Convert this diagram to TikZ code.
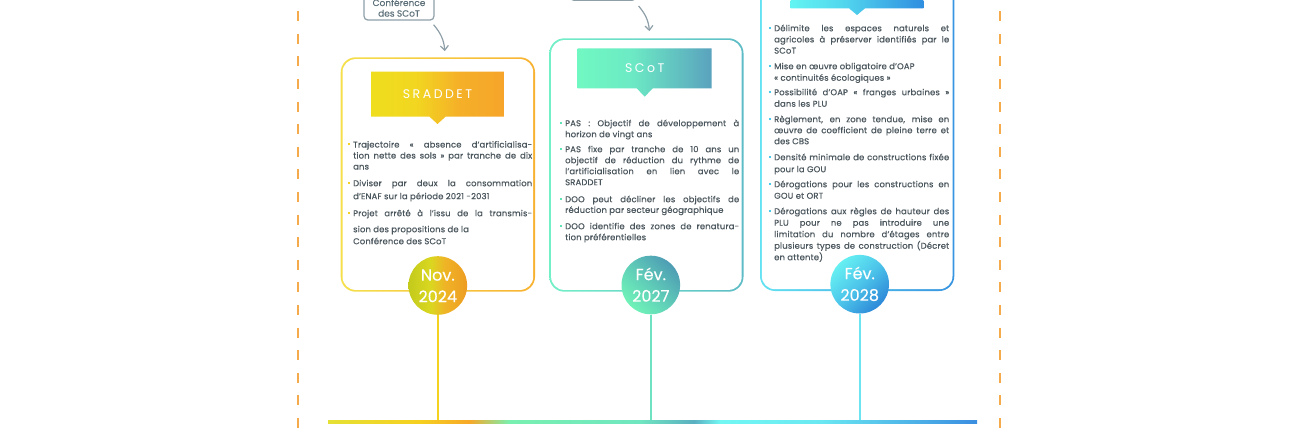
\documentclass[tikz,border=0pt]{standalone}
\usepackage{fontspec}
\setmainfont{Poppins}
\usetikzlibrary{shapes.callouts,arrows.meta}
\definecolor{txtc}{HTML}{4A565D}
\definecolor{gbox}{HTML}{8E9FA7}
\definecolor{gtxt}{HTML}{5E717A}
\definecolor{dashc}{HTML}{F5AA4C}
% box borders
\definecolor{bA1}{HTML}{F5E04C}\definecolor{bA2}{HTML}{F8B232}
\definecolor{bB1}{HTML}{74F0C8}\definecolor{bB2}{HTML}{5EBCC6}
\definecolor{bC1}{HTML}{62E2F2}\definecolor{bC2}{HTML}{3894E0}
% headers
\definecolor{hA1}{HTML}{EFDE1E}\definecolor{hA2}{HTML}{F2D620}\definecolor{hA3}{HTML}{F5B028}\definecolor{hA4}{HTML}{F6A52A}
\definecolor{hB1}{HTML}{70F8C2}\definecolor{hB2}{HTML}{6CEAC4}\definecolor{hB3}{HTML}{5AA2BE}
\definecolor{hC1}{HTML}{62F4F2}\definecolor{hC2}{HTML}{52D6EE}\definecolor{hC3}{HTML}{2F8EE0}
% circles
\definecolor{cA1}{HTML}{C4CB1C}\definecolor{cA2}{HTML}{DAD720}\definecolor{cA3}{HTML}{EFB426}\definecolor{cA4}{HTML}{EE9C22}
\definecolor{cB1}{HTML}{70F2B8}\definecolor{cB2}{HTML}{62D4B8}\definecolor{cB3}{HTML}{4E9DB4}
\definecolor{cC1}{HTML}{66F0F2}\definecolor{cC2}{HTML}{4CC4EA}\definecolor{cC3}{HTML}{2D88D8}
% bullets / lines
\definecolor{buA}{HTML}{F5CF2A}\definecolor{buB}{HTML}{5FE3B5}\definecolor{buC}{HTML}{4CC9EA}
\definecolor{vA}{HTML}{F5D21E}\definecolor{vB}{HTML}{6FE2C2}\definecolor{vC}{HTML}{6CE4F2}
% timeline
\definecolor{t0}{HTML}{E5E035}\definecolor{t1}{HTML}{F5D020}\definecolor{t2}{HTML}{F7A828}
\definecolor{t3}{HTML}{78F0B0}\definecolor{t4}{HTML}{70E6C0}\definecolor{t5}{HTML}{5AAFC0}
\definecolor{t6}{HTML}{72F7F3}\definecolor{t7}{HTML}{6AE8F2}\definecolor{t8}{HTML}{3A8DE0}

\pgfdeclarehorizontalshading{hdrA}{100bp}{color(0bp)=(hA1); color(25bp)=(hA1); color(42bp)=(hA2); color(58bp)=(hA3); color(75bp)=(hA4); color(100bp)=(hA4)}
\pgfdeclarehorizontalshading{hdrB}{100bp}{color(0bp)=(hB1); color(25bp)=(hB1); color(45bp)=(hB2); color(75bp)=(hB3); color(100bp)=(hB3)}
\pgfdeclarehorizontalshading{hdrC}{100bp}{color(0bp)=(hC1); color(25bp)=(hC1); color(45bp)=(hC2); color(75bp)=(hC3); color(100bp)=(hC3)}
\pgfdeclarehorizontalshading{cirA}{100bp}{color(0bp)=(cA1); color(25bp)=(cA1); color(44bp)=(cA2); color(56bp)=(cA3); color(75bp)=(cA4); color(100bp)=(cA4)}
\pgfdeclarehorizontalshading{cirB}{100bp}{color(0bp)=(cB1); color(25bp)=(cB1); color(45bp)=(cB2); color(75bp)=(cB3); color(100bp)=(cB3)}
\pgfdeclarehorizontalshading{cirC}{100bp}{color(0bp)=(cC1); color(25bp)=(cC1); color(50bp)=(cC2); color(75bp)=(cC3); color(100bp)=(cC3)}
\pgfdeclarehorizontalshading{tlsh}{100bp}{color(0bp)=(t0); color(25bp)=(t0); color(32.1bp)=(t1); color(35.9bp)=(t2); color(39bp)=(t3); color(49bp)=(t4); color(53.2bp)=(t5); color(55.2bp)=(t6); color(62.9bp)=(t7); color(75bp)=(t8); color(100bp)=(t8)}

\newcommand\mybul[1]{\llap{\textcolor{#1}{\rule[2.1pt]{2.5pt}{2.5pt}}\hspace{3.2pt}}}
% name, x, first baseline, width, bullet colour, baselineskip, text
\newcommand\bpar[7]{%
  \node[bultxt, text width=#4pt, font=\fontsize{8.4}{#6}\selectfont\addfontfeature{LetterSpace=2,FakeBold=0.6}] (#1) at (#2,#3-0.7*#6)
    {\tolerance=10000\hyphenpenalty=10000\noindent\strut\mybul{#5}#7};}

\begin{document}
\begin{tikzpicture}[x=1pt,y=-1pt,
  bultxt/.style={anchor=north west, inner sep=0pt, align=justify, text=txtc},
  outerbox/.style={rectangle, rounded corners=15pt, inner sep=0pt},
  innerbox/.style={rectangle, rounded corners=13.2pt, fill=white, inner sep=0pt},
  hdr/.style={rectangle callout, shade, inner sep=0pt, callout pointer width=16pt, text=white,
    font=\fontsize{12.5}{14}\selectfont\addfontfeature{LetterSpace=20}},
  datec/.style={circle, minimum size=58.6pt, inner sep=0pt, shade},
  datet/.style={text=white, align=center, font=\fontsize{16}{21.6}\selectfont\addfontfeature{FakeBold=0.2}, inner sep=0pt},
  confbox/.style={draw=gbox, line width=1.2pt, rounded corners=4pt, text=gtxt, align=center,
    font=\fontsize{9}{10.6}\selectfont\addfontfeature{FakeBold=0.5}, inner xsep=0pt, inner ysep=3.4pt, anchor=south},
  garrow/.style={draw=gbox, line width=1.2pt, -{Straight Barb[length=4.5pt,width=8pt]}},
  vline/.style={line width=1.8pt},
  dashline/.style={draw=dashc, line width=1.5pt, dash pattern=on 10pt off 12.6pt}]
\useasboundingbox (0,0) rectangle (1300,433);

% dashed frame sides
\coordinate (dl0) at (298,-11.4); \coordinate (dl1) at (298,440);
\coordinate (dr0) at (1000,-11.4); \coordinate (dr1) at (1000,440);
\draw[dashline] (dl0) -- (dl1);
\draw[dashline] (dr0) -- (dr1);

% boxes
\node[outerbox, left color=bA1, right color=bA2, minimum width=194.3pt, minimum height=234.4pt] (b1) at (437.85,174.5) {};
\node[innerbox, minimum width=190.7pt, minimum height=230.8pt] (b1i) at (b1.center) {};
\node[outerbox, left color=bB1, right color=bB2, minimum width=194.2pt, minimum height=253.4pt] (b2) at (646.4,165) {};
\node[innerbox, minimum width=190.6pt, minimum height=249.8pt] (b2i) at (b2.center) {};
\node[outerbox, left color=bC1, right color=bC2, minimum width=194.3pt, minimum height=335pt] (b3) at (857.15,123.5) {};
\node[innerbox, minimum width=190.7pt, minimum height=331.4pt] (b3i) at (b3.center) {};

% headers
\node[hdr, shading=hdrA, minimum width=133pt, minimum height=45pt, callout absolute pointer={(437.5,124)}] (h1) at (437.5,94.2) {SRADDET};
\node[hdr, shading=hdrB, minimum width=134pt, minimum height=40pt, callout absolute pointer={(644.7,96.7)}] (h2) at (644.7,68.3) {SCoT};
\node[hdr, shading=hdrC, minimum width=132.6pt, minimum height=42pt, callout absolute pointer={(857,15)}] (h3) at (857,-12.7) {};

% top grey boxes and arrows
\node[confbox, minimum width=70pt] (cf1) at (399,20.7) {Conférence\\des SCoT};
\node[confbox, minimum width=66pt, minimum height=30pt] (cf2) at (603,1) {};
\draw[garrow] ([xshift=-1pt,yshift=-4pt]cf1.south east) to[out=-50,in=95] ([xshift=7pt,yshift=6pt]b1.north);
\draw[garrow] ([xshift=2pt,yshift=-5pt]cf2.south east) to[out=-50,in=95] ([xshift=3pt,yshift=7pt]b2.north);

% texts box 1
\bpar{pA1}{353}{147.3}{179}{buA}{11}{Trajectoire « absence d’artificialisa-\linebreak tion nette des sols » par tranche de dix\linebreak ans}
\bpar{pA2}{353}{186}{179}{buA}{13}{Diviser par deux la consommation\linebreak d’ENAF sur la période 2021 -2031}
\bpar{pA3}{353}{216}{179}{buA}{12}{Projet arrêté à l’issu de la transmis-\vadjust{\vskip4pt}\linebreak sion des propositions de la\newline Conférence des SCoT}

% texts box 2
\bpar{pB1}{565}{126}{174}{buB}{11}{PAS : Objectif de développement à\linebreak horizon de vingt ans}
\bpar{pB2}{565}{152}{174}{buB}{11}{PAS fixe par tranche de 10 ans un\linebreak objectif de réduction du rythme de\linebreak l’artificialisation en lien avec le\linebreak SRADDET}
\bpar{pB3}{565}{202}{174}{buB}{10.7}{DOO peut décliner les objectifs de\linebreak réduction par secteur géographique}
\bpar{pB4}{565}{229}{174}{buB}{11}{DOO identifie des zones de renatura-\linebreak tion préférentielles}

% texts box 3
\bpar{pC1}{774}{31}{175}{buC}{11.2}{Délimite les espaces naturels et\linebreak agricoles à préserver identifiés par le\linebreak SCoT}
\bpar{pC2}{774}{69}{175}{buC}{11.5}{Mise en œuvre obligatoire d’OAP\newline « continuités écologiques »}
\bpar{pC3}{774}{95}{175}{buC}{11.5}{Possibilité d’OAP « franges urbaines »\linebreak dans les PLU}
\bpar{pC4}{774}{122}{175}{buC}{11}{Règlement, en zone tendue, mise en\linebreak œuvre de coefficient de pleine terre et\linebreak des CBS}
\bpar{pC5}{774}{160}{175}{buC}{12}{Densité minimale de constructions fixée\linebreak pour la GOU}
\bpar{pC6}{774}{187}{175}{buC}{11.5}{Dérogations pour les constructions en\linebreak GOU et ORT}
\bpar{pC7}{774}{214}{175}{buC}{11.5}{Dérogations aux règles de hauteur des\linebreak PLU pour ne pas introduire une\linebreak limitation du nombre d’étages entre\linebreak plusieurs types de construction (Décret\linebreak en attente)}

% date circles
\node[datec, shading=cirA] (c1) at (437.8,285.5) {};
\node[datet] (d1) at (437.8,284) {\vphantom{É}Nov.\\2024};
\node[datec, shading=cirB, shading angle=45] (c2) at (650.8,285) {};
\node[datet] (d2) at (650.8,283.5) {\vphantom{É}Fév.\\2027};
\node[datec, shading=cirC, shading angle=-45] (c3) at (859.7,284.2) {};
\node[datet] (d3) at (859.7,282.7) {\vphantom{É}Fév.\\2028};

% timeline
\coordinate (tlL) at (328,422); \coordinate (tlR) at (977,422);
\draw[vline, draw=vA] (c1.south) -- (c1.south |- tlL);
\draw[vline, draw=vB] (c2.south) -- (c2.south |- tlL);
\draw[vline, draw=vC] (c3.south) -- (c3.south |- tlL);
\fill[shading=tlsh] (328,420.6) rectangle (977,423.4);
\end{tikzpicture}
\end{document}
